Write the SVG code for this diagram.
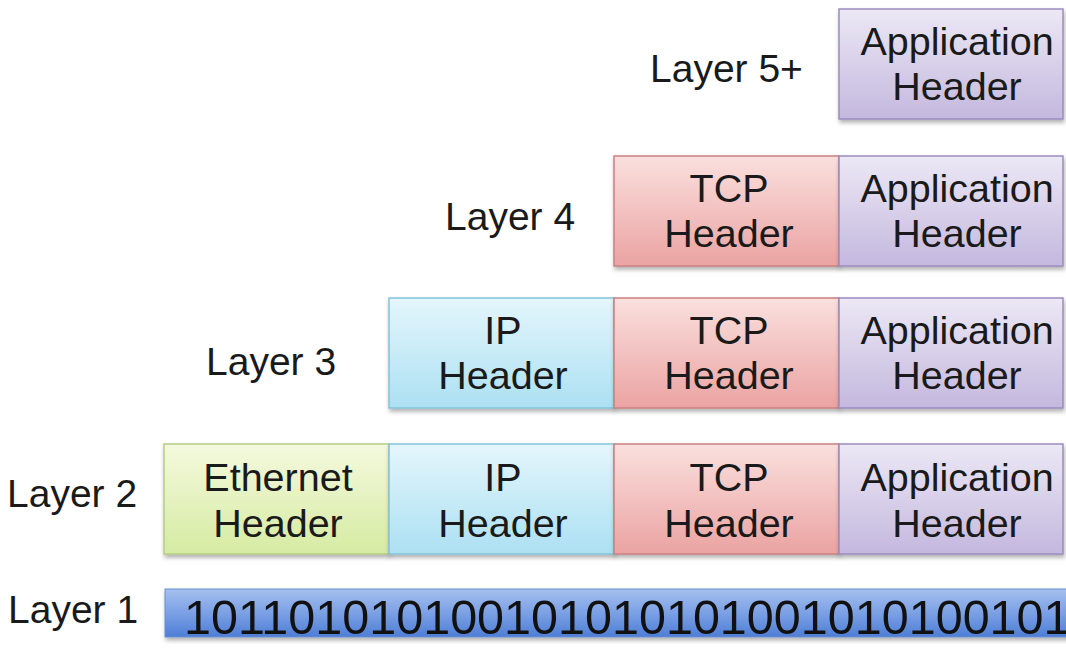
<svg xmlns="http://www.w3.org/2000/svg" width="1066" height="654" viewBox="0 0 1066 654">
<defs>
<linearGradient id="gApp" x1="0" y1="0" x2="0" y2="1"><stop offset="0" stop-color="#ece8f5"/><stop offset="1" stop-color="#c4b8de"/></linearGradient>
<linearGradient id="gTcp" x1="0" y1="0" x2="0" y2="1"><stop offset="0" stop-color="#fae0de"/><stop offset="1" stop-color="#eaa3a2"/></linearGradient>
<linearGradient id="gIp" x1="0" y1="0" x2="0" y2="1"><stop offset="0" stop-color="#e4f6fc"/><stop offset="1" stop-color="#ace0f2"/></linearGradient>
<linearGradient id="gEth" x1="0" y1="0" x2="0" y2="1"><stop offset="0" stop-color="#f4f9de"/><stop offset="1" stop-color="#d6eba2"/></linearGradient>
<linearGradient id="gBits" x1="0" y1="0" x2="0" y2="1"><stop offset="0" stop-color="#a6c0ef"/><stop offset="0.5" stop-color="#7ba0e4"/><stop offset="1" stop-color="#4e7ed6"/></linearGradient>
<filter id="sh" x="-5%" y="-5%" width="110%" height="120%"><feDropShadow dx="1" dy="3" stdDeviation="2" flood-color="#000" flood-opacity="0.3"/></filter>
</defs>
<style>
.lbl{font-family:"Liberation Sans",Arial,sans-serif;font-size:39px;fill:#1a1a1a}
.bt{font-family:"Liberation Sans",Arial,sans-serif;font-size:39.5px;fill:#1a1a1a;text-anchor:middle}
.app{fill:url(#gApp);stroke:#9a8cc0;stroke-width:1.5}
.tcp{fill:url(#gTcp);stroke:#c98080;stroke-width:1.5}
.ip{fill:url(#gIp);stroke:#84c4da;stroke-width:1.5}
.eth{fill:url(#gEth);stroke:#b6cc84;stroke-width:1.5}
.bits{fill:url(#gBits);stroke:#6a8fd0;stroke-width:1}
.bitt{font-family:"Liberation Sans",Arial,sans-serif;font-size:48.5px;fill:#111}
</style>
<rect width="1066" height="654" fill="#ffffff"/>

<g id="labels">
<text class="lbl" x="650" y="82">Layer 5+</text>
<text class="lbl" x="445" y="230">Layer 4</text>
<text class="lbl" x="206" y="375">Layer 3</text>
<text class="lbl" x="7" y="507">Layer 2</text>
<text class="lbl" x="8" y="623">Layer 1</text>
</g>

<g id="row5">
<g id="r5-app"><rect class="app" x="839" y="9" width="224" height="110" filter="url(#sh)"/><text class="bt" x="957" y="55">Application</text><text class="bt" x="957" y="100">Header</text></g>
</g>

<g id="row4">
<g id="r4-tcp"><rect class="tcp" x="614" y="156" width="225" height="110" filter="url(#sh)"/><text class="bt" x="729" y="202">TCP</text><text class="bt" x="729" y="247">Header</text></g>
<g id="r4-app"><rect class="app" x="839" y="156" width="224" height="110" filter="url(#sh)"/><text class="bt" x="957" y="202">Application</text><text class="bt" x="957" y="247">Header</text></g>
</g>

<g id="row3">
<g id="r3-ip"><rect class="ip" x="389" y="298" width="225" height="110" filter="url(#sh)"/><text class="bt" x="503" y="344">IP</text><text class="bt" x="503" y="389">Header</text></g>
<g id="r3-tcp"><rect class="tcp" x="614" y="298" width="225" height="110" filter="url(#sh)"/><text class="bt" x="729" y="344">TCP</text><text class="bt" x="729" y="389">Header</text></g>
<g id="r3-app"><rect class="app" x="839" y="298" width="224" height="110" filter="url(#sh)"/><text class="bt" x="957" y="344">Application</text><text class="bt" x="957" y="389">Header</text></g>
</g>

<g id="row2">
<g id="r2-eth"><rect class="eth" x="164" y="444" width="225" height="110" filter="url(#sh)"/><text class="bt" x="278" y="491">Ethernet</text><text class="bt" x="278" y="537">Header</text></g>
<g id="r2-ip"><rect class="ip" x="389" y="444" width="225" height="110" filter="url(#sh)"/><text class="bt" x="503" y="491">IP</text><text class="bt" x="503" y="537">Header</text></g>
<g id="r2-tcp"><rect class="tcp" x="614" y="444" width="225" height="110" filter="url(#sh)"/><text class="bt" x="729" y="491">TCP</text><text class="bt" x="729" y="537">Header</text></g>
<g id="r2-app"><rect class="app" x="839" y="444" width="224" height="110" filter="url(#sh)"/><text class="bt" x="957" y="491">Application</text><text class="bt" x="957" y="537">Header</text></g>
</g>

<g id="row1">
<rect class="bits" x="165" y="589" width="910" height="48" filter="url(#sh)"/>
<text class="bitt" x="184" y="634">101101010100101010101001010100101</text>
</g>

<g id="connectors"></g>
</svg>
